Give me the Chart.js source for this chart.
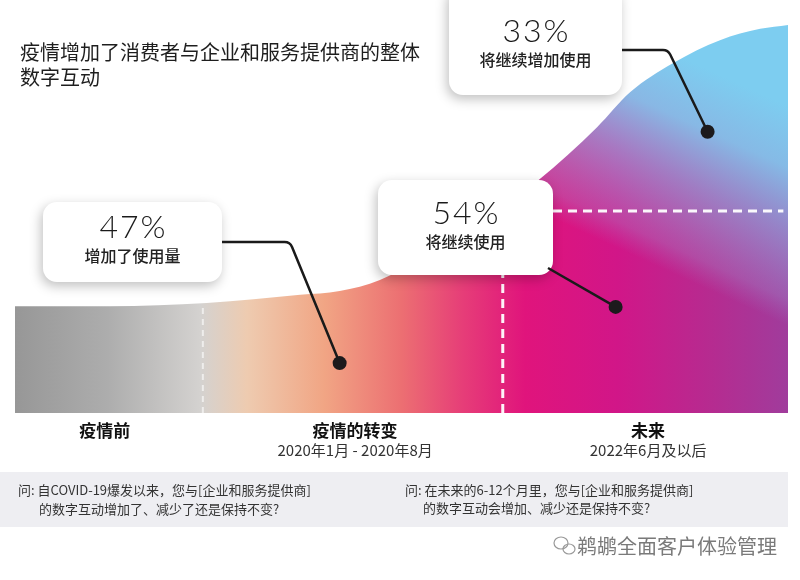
<!DOCTYPE html>
<html>
<head>
<meta charset="utf-8">
<script src="https://cdn.jsdelivr.net/npm/chart.js@4.4.1/dist/chart.umd.min.js"></script>
<style>
  html, body { margin: 0; background: #fff; }
</style>
</head>
<body>
<canvas id="chart" width="800" height="580"></canvas>
<script>
// outline of the digital-interaction area (x: timeline 0-100, y: level 0-100)
const curveX = [0, 12.3, 24.8, 36.9, 42.0, 47.2, 57.6, 67.7, 75.3, 79.6, 85.1, 91.2, 96.4, 100];
const curveY = [27.4, 27.4, 28.2, 30.3, 31.3, 34.1, 45.9, 59.7, 73.3, 82.3, 89.7, 95.6, 98.5, 99.5];

// callout anchor points
const calloutX = [42.0, 77.7, 89.6];
const calloutY = [12.8, 27.2, 72.1];
const calloutPct = ['47%', '54%', '33%'];
const calloutText = ['增加了使用量', '将继续使用', '将继续增加使用'];

// period labels under the area
const periods = ['疫情前', '疫情的转变', '未来'];
const periodDates = ['', '2020年1月 - 2020年8月', '2022年6月及以后'];
const periodX = [11.6, 44.0, 81.9];

// dashed guide lines
const guideV = [24.3, 63.1];
const guideH = 51.8;

const titleLines = ['疫情增加了消费者与企业和服务提供商的整体', '数字互动'];
const questions = [
  ['问: 自COVID-19爆发以来，您与[企业和服务提供商]', '的数字互动增加了、减少了还是保持不变?'],
  ['问: 在未来的6-12个月里，您与[企业和服务提供商]', '的数字互动会增加、减少还是保持不变?']
];
const watermark = '鹈鹕全面客户体验管理';

const FONT = '"Noto Sans CJK SC", "Noto Sans", sans-serif';

// callout boxes, same order as the callout arrays
const boxes = [
  { x: 43, y: 202, w: 179, h: 80, lead: [[222, 242], [290, 242]] },
  { x: 378, y: 180, w: 175, h: 95, lead: [[548, 268]] },
  { x: 449, y: -14, w: 173, h: 109, lead: [[622, 50], [668, 50]] }
];

function areaGradient(ctx) {
  const a = ctx.chart.chartArea;
  if (!a) return null;
  const g = ctx.chart.ctx.createLinearGradient(a.left, 0, a.right, 0);
  g.addColorStop(0.00, '#979797');
  g.addColorStop(0.12, '#adadad');
  g.addColorStop(0.24, '#d4d2d0');
  g.addColorStop(0.30, '#eecbb0');
  g.addColorStop(0.40, '#f1a584');
  g.addColorStop(0.50, '#ec6f72');
  g.addColorStop(0.58, '#e63d78');
  g.addColorStop(0.66, '#e0147c');
  g.addColorStop(0.78, '#d11688');
  g.addColorStop(0.90, '#b62b90');
  g.addColorStop(1.00, '#a03c9c');
  return g;
}

const decor = {
  id: 'decor',
  beforeDraw(chart) {
    const ctx = chart.ctx;
    ctx.save();
    ctx.fillStyle = '#eeeef2';
    ctx.fillRect(0, 472, 788, 55);
    ctx.restore();
  },
  afterDatasetDraw(chart, args) {
    if (args.index !== 0) return;
    const ctx = chart.ctx;
    const a = chart.chartArea;
    const xs = chart.scales.x, ys = chart.scales.y;

    // blue wash towards the top right, only on the area
    ctx.save();
    ctx.globalCompositeOperation = 'source-atop';
    const g = ctx.createLinearGradient(600, 240, 683, 58);
    g.addColorStop(0, 'rgba(160,150,215,0)');
    g.addColorStop(0.12, 'rgba(155,165,220,0.28)');
    g.addColorStop(0.45, 'rgba(140,185,232,0.6)');
    g.addColorStop(0.72, 'rgba(130,200,238,0.9)');
    g.addColorStop(1, 'rgba(125,205,240,1)');
    ctx.fillStyle = g;
    ctx.fillRect(a.left, a.top, a.width, a.height);
    ctx.restore();

    // dashed guides
    ctx.save();
    ctx.strokeStyle = 'rgba(255,255,255,0.95)';
    ctx.lineWidth = 3;
    ctx.setLineDash([9, 6]);
    ctx.beginPath();
    ctx.moveTo(xs.getPixelForValue(69.6), ys.getPixelForValue(guideH));
    ctx.lineTo(xs.getPixelForValue(99.4), ys.getPixelForValue(guideH));
    ctx.moveTo(xs.getPixelForValue(guideV[1]), ys.getPixelForValue(0));
    ctx.lineTo(xs.getPixelForValue(guideV[1]), ys.getPixelForValue(35.4));
    ctx.stroke();
    ctx.strokeStyle = 'rgba(255,255,255,0.6)';
    ctx.lineWidth = 2;
    ctx.setLineDash([6, 5]);
    ctx.beginPath();
    ctx.moveTo(xs.getPixelForValue(guideV[0]), ys.getPixelForValue(0));
    ctx.lineTo(xs.getPixelForValue(guideV[0]), ys.getPixelForValue(27.6));
    ctx.stroke();
    ctx.restore();

    // callout boxes
    boxes.forEach(b => {
      ctx.save();
      ctx.shadowColor = 'rgba(0,0,0,0.25)';
      ctx.shadowBlur = 12;
      ctx.shadowOffsetX = -2;
      ctx.shadowOffsetY = 4;
      ctx.fillStyle = '#fff';
      ctx.beginPath();
      ctx.roundRect(b.x, b.y, b.w, b.h, 14);
      ctx.fill();
      ctx.restore();
    });

    // leader lines
    ctx.save();
    ctx.strokeStyle = '#1a1a1a';
    ctx.lineWidth = 2.5;
    ctx.lineJoin = 'round';
    boxes.forEach((b, i) => {
      const dx = xs.getPixelForValue(calloutX[i]);
      const dy = ys.getPixelForValue(calloutY[i]);
      const pts = b.lead.concat([[dx, dy]]);
      ctx.beginPath();
      ctx.moveTo(pts[0][0], pts[0][1]);
      for (let k = 1; k < pts.length - 1; k++) {
        ctx.arcTo(pts[k][0], pts[k][1], pts[k + 1][0], pts[k + 1][1], 8);
      }
      ctx.lineTo(dx, dy);
      ctx.stroke();
    });
    ctx.restore();
  },
  afterDraw(chart) {
    const ctx = chart.ctx;
    const xs = chart.scales.x;
    ctx.save();
    ctx.textBaseline = 'middle';

    // title
    ctx.fillStyle = '#1e1e1e';
    ctx.font = '20px ' + FONT;
    ctx.textAlign = 'left';
    ctx.fillText(titleLines[0], 20, 52);
    ctx.fillText(titleLines[1], 20, 77);

    // callout text
    ctx.textAlign = 'center';
    boxes.forEach((b, i) => {
      const cx = b.x + b.w / 2;
      const shift = b.y < 0 ? 5 : 0;
      ctx.fillStyle = '#1a1a1a';
      ctx.font = '300 32px Lato, "Open Sans", sans-serif';
      ctx.letterSpacing = '2px';
      ctx.fillText(calloutPct[i], cx + 1, b.y + b.h / 2 - 14 + shift);
      ctx.letterSpacing = '0px';
      ctx.font = '500 16px ' + FONT;
      ctx.fillStyle = '#222';
      ctx.fillText(calloutText[i], cx, b.y + b.h / 2 + 14 + shift);
    });

    // period labels
    periods.forEach((p, i) => {
      const px = xs.getPixelForValue(periodX[i]);
      ctx.fillStyle = '#111';
      ctx.font = 'bold 17px ' + FONT;
      ctx.fillText(p, px, 431);
      if (periodDates[i]) {
        ctx.fillStyle = '#333';
        ctx.font = '15px ' + FONT;
        ctx.fillText(periodDates[i], px, 450);
      }
    });

    // survey questions
    ctx.textAlign = 'left';
    ctx.fillStyle = '#333';
    ctx.font = '13px ' + FONT;
    ctx.fillText(questions[0][0], 18, 490);
    ctx.fillText(questions[0][1], 39, 509);
    ctx.fillText(questions[1][0], 405, 490);
    ctx.fillText(questions[1][1], 423, 508);

    // watermark
    ctx.strokeStyle = '#999';
    ctx.lineWidth = 1.2;
    ctx.beginPath();
    ctx.ellipse(561, 543, 7, 6, 0, 0, Math.PI * 2);
    ctx.stroke();
    ctx.beginPath();
    ctx.ellipse(569, 549, 6, 5, 0, 0, Math.PI * 2);
    ctx.stroke();
    ctx.fillStyle = '#7a7a7a';
    ctx.font = '20px ' + FONT;
    ctx.fillText(watermark, 577, 546);
    ctx.restore();
  }
};

new Chart(document.getElementById('chart'), {
  type: 'line',
  data: {
    datasets: [
      {
        label: '数字互动',
        data: curveX.map((x, i) => ({ x: x, y: curveY[i] })),
        fill: 'origin',
        backgroundColor: areaGradient,
        borderWidth: 0,
        pointRadius: 0,
        cubicInterpolationMode: 'monotone',
        order: 1
      },
      {
        label: '调查结果',
        data: calloutX.map((x, i) => ({ x: x, y: calloutY[i] })),
        showLine: false,
        pointRadius: 7,
        pointBackgroundColor: '#1c1a1c',
        pointBorderWidth: 0,
        order: 0
      }
    ]
  },
  options: {
    responsive: false,
    animation: false,
    layout: { padding: { left: 15, right: 12, top: 23, bottom: 167 } },
    scales: {
      x: { type: 'linear', min: 0, max: 100, display: false },
      y: { min: 0, max: 100, display: false }
    },
    plugins: { legend: { display: false }, tooltip: { enabled: false } }
  },
  plugins: [decor]
});
</script>
</body>
</html>
